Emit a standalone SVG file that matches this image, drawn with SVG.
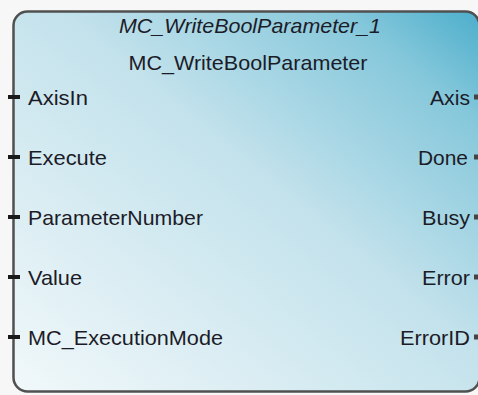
<svg xmlns="http://www.w3.org/2000/svg" width="478" height="395" viewBox="0 0 478 395">
  <defs>
    <linearGradient id="bg" x1="0" y1="1" x2="1" y2="0">
      <stop offset="0" stop-color="#f1f8fa"/>
      <stop offset="0.55" stop-color="#c3e2ec"/>
      <stop offset="0.85" stop-color="#86c8db"/>
      <stop offset="1" stop-color="#4caecb"/>
    </linearGradient>
    <style>
      .lbl { font-family: "Liberation Sans", Arial, sans-serif; font-size: 21px; fill: #1c1c28; }
      .r { text-anchor: end; }
      .pin { stroke: #1a1a1a; stroke-width: 4; }
      .opin { stroke: #444; stroke-width: 5; }
    </style>
  </defs>
  <rect width="478" height="395" fill="#f7f7f7"/>
  <g id="block">
    <rect x="13.5" y="11.5" width="466" height="380" rx="14" ry="14" fill="url(#bg)" stroke="#505050" stroke-width="2.5"/>
    <text class="lbl" x="250" y="33" text-anchor="middle" font-style="italic" fill="#2a2a3a" textLength="262" lengthAdjust="spacingAndGlyphs">MC_WriteBoolParameter_1</text>
    <text class="lbl" x="248" y="70" text-anchor="middle" textLength="239" lengthAdjust="spacingAndGlyphs">MC_WriteBoolParameter</text>
  </g>
  <g id="connectors">
    <line class="pin" x1="8" y1="97" x2="20" y2="97"/>
    <line class="pin" x1="8" y1="157" x2="20" y2="157"/>
    <line class="pin" x1="8" y1="217" x2="20" y2="217"/>
    <line class="pin" x1="8" y1="277" x2="20" y2="277"/>
    <line class="pin" x1="8" y1="337" x2="20" y2="337"/>
    <line class="opin" x1="474" y1="97" x2="478" y2="97"/>
    <line class="opin" x1="474" y1="157" x2="478" y2="157"/>
    <line class="opin" x1="474" y1="217" x2="478" y2="217"/>
    <line class="opin" x1="474" y1="277" x2="478" y2="277"/>
    <line class="opin" x1="474" y1="337" x2="478" y2="337"/>
  </g>
  <g id="inputs">
    <text class="lbl" x="28" y="105" textLength="60" lengthAdjust="spacingAndGlyphs">AxisIn</text>
    <text class="lbl" x="28" y="165" textLength="79" lengthAdjust="spacingAndGlyphs">Execute</text>
    <text class="lbl" x="28" y="225" textLength="175" lengthAdjust="spacingAndGlyphs">ParameterNumber</text>
    <text class="lbl" x="28" y="285" textLength="54" lengthAdjust="spacingAndGlyphs">Value</text>
    <text class="lbl" x="28" y="345" textLength="195" lengthAdjust="spacingAndGlyphs">MC_ExecutionMode</text>
  </g>
  <g id="outputs">
    <text class="lbl r" x="470" y="105" textLength="40" lengthAdjust="spacingAndGlyphs">Axis</text>
    <text class="lbl r" x="468" y="165" textLength="50" lengthAdjust="spacingAndGlyphs">Done</text>
    <text class="lbl r" x="470" y="225" textLength="48" lengthAdjust="spacingAndGlyphs">Busy</text>
    <text class="lbl r" x="470" y="285" textLength="48" lengthAdjust="spacingAndGlyphs">Error</text>
    <text class="lbl r" x="470" y="345" textLength="70" lengthAdjust="spacingAndGlyphs">ErrorID</text>
  </g>
</svg>
